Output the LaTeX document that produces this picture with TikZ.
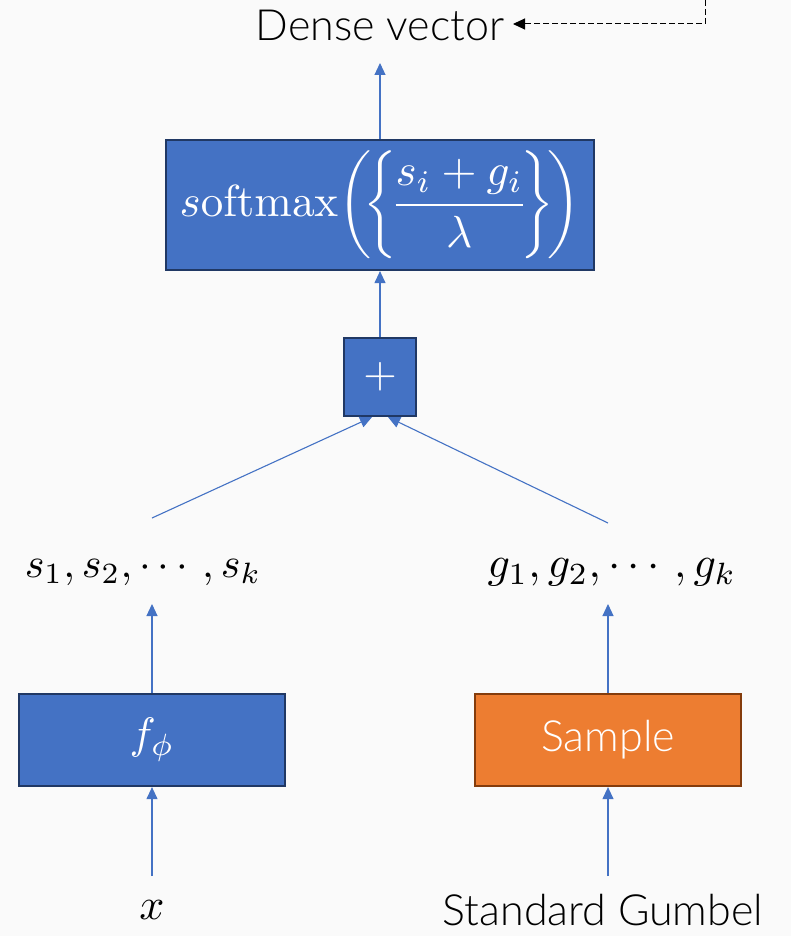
\documentclass[tikz,border=0pt]{standalone}
\usepackage{amsmath}
\usepackage{graphicx}
\usepackage[no-math]{fontspec}
\setmainfont{Lato Light}
\usetikzlibrary{arrows.meta}
\definecolor{bgc}{HTML}{FAFAFA}
\definecolor{blu}{HTML}{4472C4}
\definecolor{bluedge}{HTML}{203864}
\definecolor{ora}{HTML}{ED7D31}
\definecolor{oraedge}{HTML}{843C0C}
% large math, typeset at 10pt and scaled up
\newcommand{\bigmath}[2][4.4]{\scalebox{#1}{$#2$}}
\tikzset{
  flow/.style={draw=blu, line width=1.1pt, -{Triangle[length=12pt,width=11pt]}},
  bluebox/.style={draw=bluedge, fill=blu, line width=2.2pt, text=white, inner sep=0pt},
  orabox/.style={draw=oraedge, fill=ora, line width=2.2pt, text=white, inner sep=0pt},
  lbl/.style={inner sep=0pt, text=black},
  txt/.style={font=\fontsize{43}{46}\selectfont}
}
\begin{document}
\begin{tikzpicture}[x=1pt,y=-1pt]
\fill[bgc] (0,0) rectangle (791,936);
\useasboundingbox (0,0) rectangle (791,936);

% boxes
\node[bluebox, minimum width=428pt, minimum height=130pt] (soft) at (380,205)
  {\bigmath[4.5]{s\mathrm{oftmax}\!\left(\!\left\{\!\dfrac{s_i+g_i}{\lambda}\!\right\}\!\right)}};
\node[bluebox, minimum width=72pt, minimum height=78pt] (plus) at (380,377) {\bigmath[4.3]{+}};
\node[bluebox, minimum width=266pt, minimum height=92pt] (fbox) at (152,740) {\bigmath{f_\phi}};
\node[orabox, minimum width=266pt, minimum height=92pt, txt] (samp) at (608,740) {Sample};

% labels
\node[lbl, txt] (dense) at (380,25) {Dense vector};
\node[lbl] (slist) at (143,572) {\bigmath[4.2]{s_1,s_2,\cdots,s_k}};
\node[lbl] (glist) at (612,572) {\bigmath{g_1,g_2,\cdots,g_k}};
\node[lbl] (xin) at (152,910) {\bigmath{x}};
\node[lbl, txt] (gum) at (603,910) {Standard Gumbel};

% free ends of connectors
\coordinate (dtip) at (380,63);
\coordinate (stip) at (152,604);
\coordinate (gtip) at (608,604);
\coordinate (xfoot) at (152,876);
\coordinate (gfoot) at (608,876);
\coordinate (sfoot) at (152,518);
\coordinate (gtop) at (608,523);
\coordinate (loop) at (705,0);
\coordinate (ltip) at (513,24);

% connectors
\draw[flow] (xfoot) -- (fbox.south);
\draw[flow] (gfoot) -- (samp.south);
\draw[flow] (fbox.north) -- (stip);
\draw[flow] (samp.north) -- (gtip);
\draw[flow] (sfoot) -- ([xshift=-8pt]plus.south);
\draw[flow] (gtop) -- ([xshift=8pt]plus.south);
\draw[flow] (plus.north) -- (soft.south);
\draw[flow] (soft.north) -- (dtip);
\draw[black, line width=1pt, dash pattern=on 6pt off 3pt, -{Triangle[length=12pt,width=11pt]}]
  (loop) |- (ltip);
\end{tikzpicture}
\end{document}
